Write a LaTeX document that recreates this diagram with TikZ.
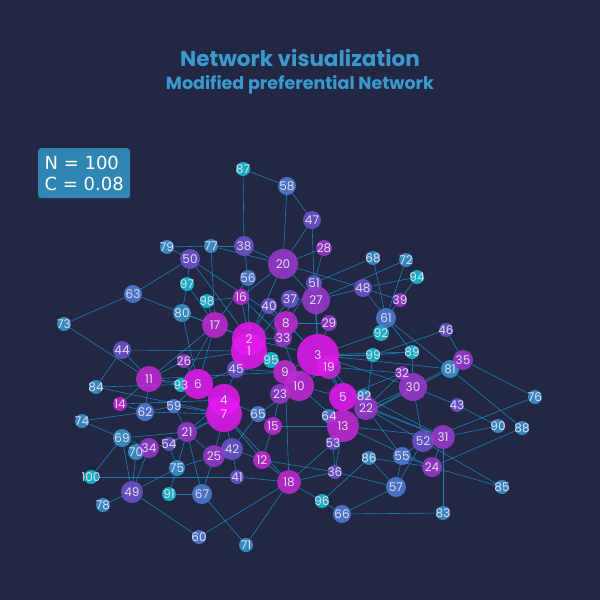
\documentclass[tikz,border=0pt]{standalone}
\usepackage{fontspec}
\setmainfont{Poppins}
\newfontfamily\boxfont{DejaVu Sans}
\pgfdeclarelayer{bg}
\pgfdeclarelayer{fg}
\pgfsetlayers{bg,main,fg}
\definecolor{bgc}{HTML}{222844}
\definecolor{edgec}{HTML}{1C8FC8}
\definecolor{titlec}{HTML}{3A9AD0}
\definecolor{boxc}{HTML}{2F86B3}
\definecolor{labc}{HTML}{E4DCF6}
\definecolor{mg}{HTML}{E619F0}
\definecolor{pm}{HTML}{C42AD8}
\definecolor{pu}{HTML}{9B3AD0}
\definecolor{vi}{HTML}{6E55D0}
\definecolor{bl}{HTML}{4F80D8}
\definecolor{lb}{HTML}{3A98D2}
\definecolor{cy}{HTML}{12C6D6}
\tikzset{
  nd/.style={circle, inner sep=0pt, fill opacity=0.85},
  lab/.style={inner sep=0pt, text=labc, font=\fontsize{12}{12}\selectfont},
  edge/.style={draw=edgec, line width=0.6pt, opacity=0.85},
}
\begin{document}
\begin{tikzpicture}[x=1pt,y=-1pt]
\begin{pgfonlayer}{bg}
\fill[bgc] (0,0) rectangle (600,600);
\end{pgfonlayer}
\useasboundingbox (0,0) rectangle (600,600);
\node[text=titlec, font=\fontsize{21.5}{24}\selectfont\bfseries] (title) at (300,58) {Network visualization};
\node[text=titlec, font=\fontsize{17.5}{19}\selectfont\bfseries] (subtitle) at (300,85) {Modified preferential Network};
\node[fill=boxc, rounded corners=3pt, text=white, align=left, inner sep=5pt,
      font=\boxfont\fontsize{18}{21}\selectfont, anchor=north west, minimum width=92pt, minimum height=50pt] (info) at (38,148) {N = 100\\C = 0.08};
\foreach \n/\x/\y/\r/\c in {
100/91/477/7/cy, 99/373/355/7/cy, 98/207/301/7/cy, 97/187/284/7/cy, 96/322/501/7/cy,
95/271/360/8/cy, 94/417/277/7/cy, 93/181/385/7/cy, 92/381/333/8/cy, 91/169/494/7/cy,
90/498/426/7/lb, 89/412/352/7/cy, 88/522/428/7/lb, 87/243/169/7/cy, 86/369/458/7/lb,
85/502/487/7/lb, 84/96/387/7/lb, 83/443/513/7/lb, 82/364/396/7/lb, 81/450/369/9/lb,
80/182/313/9/lb, 79/167/247/7/lb, 78/103/505/7/lb, 77/211/246/7/lb, 76/535/397/7/lb,
75/177/468/8/lb, 74/82/421/7/lb, 73/64/324/7/lb, 72/406/260/7/lb, 71/246/545/7/lb,
70/136/452/8/lb, 69/122/438/9/lb, 68/373/258/7/lb, 67/202/494/10/bl, 66/342/514/9/bl,
65/258/414/8/bl, 64/329/416/7/bl, 63/133/294/9/bl, 62/145/412/9/bl, 61/386/318/10/bl,
60/199/537/7/bl, 59/174/406/7/bl, 58/287/186/9/bl, 57/396/487/10/bl, 56/248/278/8/bl,
55/402/456/9/bl, 54/169/444/7/vi, 53/333/443/7/vi, 52/423/441/11/vi, 51/314/283/8/vi,
50/190/259/10/vi, 49/132/492/11/vi, 48/363/288/9/vi, 47/312/220/9/vi, 46/446/330/7/vi,
45/236/369/9/vi, 44/122/350/9/vi, 43/457/405/7/vi, 42/232/449/11/vi, 41/237/477/7/vi,
40/269/306/8/vi, 39/400/300/7/pu, 38/244/246/10/vi, 37/290/299/9/vi, 36/335/472/7/vi,
35/463/360/10/pu, 34/149/448/10/pu, 33/283/338/9/pu, 32/402/373/7/pu, 31/443/437/12/pu,
30/413/387/14/pu, 29/329/323/8/pu, 28/324/248/8/pu, 27/316/300/14/pu, 26/184/361/7/pu,
25/214/456/11/pu, 24/432/467/10/pu, 23/280/394/10/pu, 22/366/408/12/pu, 21/187/432/10/pu,
20/283/264/15/pu, 19/329/367/12/pm, 18/289/482/12/pm, 17/215/325/13/pm, 16/241/297/8/pm,
15/273/426/9/pm, 14/120/404/7/pm, 13/343/426/16/pm, 12/262/460/9/pm, 11/149/379/13/pm,
10/299/386/15/pm, 9/285/372/12/pm, 8/286/323/12/pm, 7/224/414/18/mg, 6/198/384/15/mg,
5/343/397/14/mg, 4/224/400/16/mg, 3/318/355/21/mg, 2/249/339/17/mg, 1/249/351/18/mg}
{ \node[nd, fill=\c, minimum size=2*\r pt] (n\n) at (\x,\y) {};
  \begin{pgfonlayer}{fg}
  \node[lab] (l\n) at (\x,\y) {\n};
  \end{pgfonlayer} }
\begin{pgfonlayer}{bg}
\foreach \a/\b in {
87/58, 87/38, 58/20, 58/47, 47/20, 47/51, 28/20, 28/51, 38/77, 38/20, 77/20, 38/56, 20/27, 20/48, 20/2, 20/16,
68/51, 68/61, 72/27, 72/61, 94/48, 94/39, 51/3, 51/8, 48/27, 48/61, 48/39, 79/50, 79/77, 77/17, 50/63, 50/2,
50/97, 50/8, 97/80, 97/17, 98/17, 98/16, 56/17, 56/2, 16/2, 16/33, 27/37, 27/3, 37/8, 40/2, 40/3, 37/1, 29/3,
29/8, 39/61, 92/61, 92/3, 61/81, 61/89, 46/99, 46/35, 63/73, 63/80, 80/17, 80/2, 80/6, 73/11, 44/84, 44/11,
44/1, 17/6, 17/11, 17/2, 17/93, 8/3, 8/33, 33/2, 33/10, 2/1, 2/3, 1/9, 1/45, 1/95, 26/11, 26/1, 26/6, 3/19,
3/9, 3/10, 3/99, 3/81, 3/30, 3/5, 3/22, 3/89, 3/23, 95/9, 99/89, 99/22, 89/30, 35/76, 35/81, 35/30, 19/10,
19/5, 19/32, 84/6, 84/7, 11/6, 11/93, 11/62, 11/14, 11/9, 93/6, 93/4, 6/4, 6/7, 6/45, 6/59, 45/4, 45/9, 9/10,
9/23, 9/18, 81/88, 81/13, 32/22, 32/5, 30/43, 30/22, 30/13, 30/52, 10/23, 10/5, 10/13, 10/65, 23/15, 14/62,
14/4, 62/74, 62/7, 62/59, 59/7, 59/21, 4/7, 4/65, 4/21, 7/21, 7/42, 7/25, 7/54, 7/12, 7/18, 5/22, 5/13, 5/31,
5/64, 82/22, 82/31, 22/31, 22/85, 22/55, 43/90, 76/52, 74/69, 65/15, 65/42, 64/13, 13/53, 13/36, 13/31, 13/24,
15/12, 15/13, 69/100, 69/49, 69/21, 69/34, 21/25, 21/67, 21/54, 21/75, 90/31, 88/24, 31/83, 31/52, 52/57,
52/55, 70/49, 70/34, 34/49, 34/54, 54/75, 53/18, 53/36, 42/25, 42/12, 42/41, 25/67, 25/75, 86/96, 86/57,
86/24, 55/57, 55/24, 12/18, 12/36, 24/85, 75/49, 75/91, 36/18, 36/57, 41/18, 100/41, 18/96, 18/60, 18/71,
49/78, 49/60, 91/67, 67/71, 57/66, 96/66, 66/83, 24/31}
{ \draw[edge] (n\a) -- (n\b); }
\end{pgfonlayer}
\end{tikzpicture}
\end{document}
